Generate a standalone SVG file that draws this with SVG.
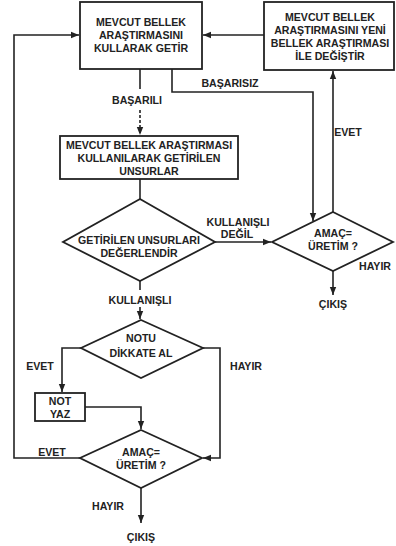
<svg xmlns="http://www.w3.org/2000/svg" width="396" height="546" viewBox="0 0 396 546">
<style>
.s{fill:#fff;stroke:#222;stroke-width:1.8}
.c{fill:none;stroke:#222;stroke-width:1.6}
.d{stroke-dasharray:3 2}
text{font-family:"Liberation Sans",Arial,sans-serif;font-weight:bold;font-size:10.6px;fill:#222;text-anchor:middle}
</style>
<defs>
<marker id="a" viewBox="0 0 10 10" refX="10" refY="5" markerWidth="5" markerHeight="5" orient="auto">
<path d="M0,1 L10,5 L0,9 Z" fill="#222"/>
</marker>
</defs>
<rect width="396" height="546" fill="#fff"/>
<g id="connectors">
<polyline class="c" points="80,458 14,458 14,35 79,35" marker-end="url(#a)"/>
<line class="c" x1="264" y1="35" x2="203" y2="35" marker-end="url(#a)"/>
<line class="c" x1="140" y1="69" x2="140" y2="89"/>
<line class="c d" x1="140" y1="110" x2="140" y2="135" marker-end="url(#a)"/>
<polyline class="c" points="172,69 172,92 313,92 313,221" marker-end="url(#a)"/>
<line class="c" x1="333" y1="212" x2="333" y2="71" marker-end="url(#a)"/>
<line class="c" x1="140" y1="179" x2="140" y2="199"/>
<line class="c" x1="215" y1="242" x2="271" y2="242" marker-end="url(#a)"/>
<line class="c" x1="333" y1="271" x2="333" y2="295" marker-end="url(#a)"/>
<line class="c" x1="140" y1="281" x2="140" y2="290"/>
<line class="c" x1="140" y1="307" x2="140" y2="319" marker-end="url(#a)"/>
<polyline class="c" points="81,348 62,348 62,392" marker-end="url(#a)"/>
<polyline class="c" points="85,407 141,407 141,429" marker-end="url(#a)"/>
<polyline class="c" points="203,348 220,348 220,458 203,458" marker-end="url(#a)"/>
<line class="c" x1="141" y1="488" x2="141" y2="523" marker-end="url(#a)"/>
</g>
<g id="box1">
<rect class="s" x="80" y="2" width="122" height="67"/>
<text x="141" y="26">MEVCUT BELLEK</text>
<text x="141" y="39">ARAŞTIRMASINI</text>
<text x="141" y="52">KULLARAK GETİR</text>
</g>
<g id="box2">
<rect class="s" x="264" y="2" width="130" height="68"/>
<text x="330" y="21">MEVCUT BELLEK</text>
<text x="330" y="34">ARAŞTIRMASINI YENİ</text>
<text x="330" y="47">BELLEK ARAŞTIRMASI</text>
<text x="330" y="60">İLE DEĞİŞTİR</text>
</g>
<g id="box3">
<rect class="s" x="60" y="136" width="178" height="43"/>
<text x="149" y="149">MEVCUT BELLEK ARAŞTIRMASI</text>
<text x="149" y="162">KULLANILARAK GETİRİLEN</text>
<text x="149" y="175">UNSURLAR</text>
</g>
<g id="diamond1">
<polygon class="s" points="140,199 215,242 140,281 63,242"/>
<text x="139" y="244">GETİRİLEN UNSURLARI</text>
<text x="139" y="257">DEĞERLENDİR</text>
</g>
<g id="diamond2">
<polygon class="s" points="333,212 393,242 333,271 272,242"/>
<text x="333" y="237">AMAÇ=</text>
<text x="333" y="250">ÜRETİM ?</text>
</g>
<g id="diamond3">
<polygon class="s" points="141,320 203,348 141,378 81,348"/>
<text x="141" y="342">NOTU</text>
<text x="141" y="357">DİKKATE AL</text>
</g>
<g id="box4">
<rect class="s" x="35" y="393" width="50" height="28"/>
<text x="60" y="405">NOT</text>
<text x="60" y="418">YAZ</text>
</g>
<g id="diamond4">
<polygon class="s" points="141,430 202,458 141,488 80,458"/>
<text x="141" y="456">AMAÇ=</text>
<text x="141" y="469">ÜRETİM ?</text>
</g>
<g id="labels">
<text x="137" y="104">BAŞARILI</text>
<text x="230" y="87">BAŞARISIZ</text>
<text x="348" y="136">EVET</text>
<text x="238" y="226">KULLANIŞLI</text>
<text x="237" y="238">DEĞİL</text>
<text x="375" y="270">HAYIR</text>
<text x="333" y="308">ÇIKIŞ</text>
<text x="140" y="304">KULLANIŞLI</text>
<text x="40" y="370">EVET</text>
<text x="246" y="370">HAYIR</text>
<text x="52" y="456">EVET</text>
<text x="108" y="510">HAYIR</text>
<text x="141" y="541">ÇIKIŞ</text>
</g>
</svg>
